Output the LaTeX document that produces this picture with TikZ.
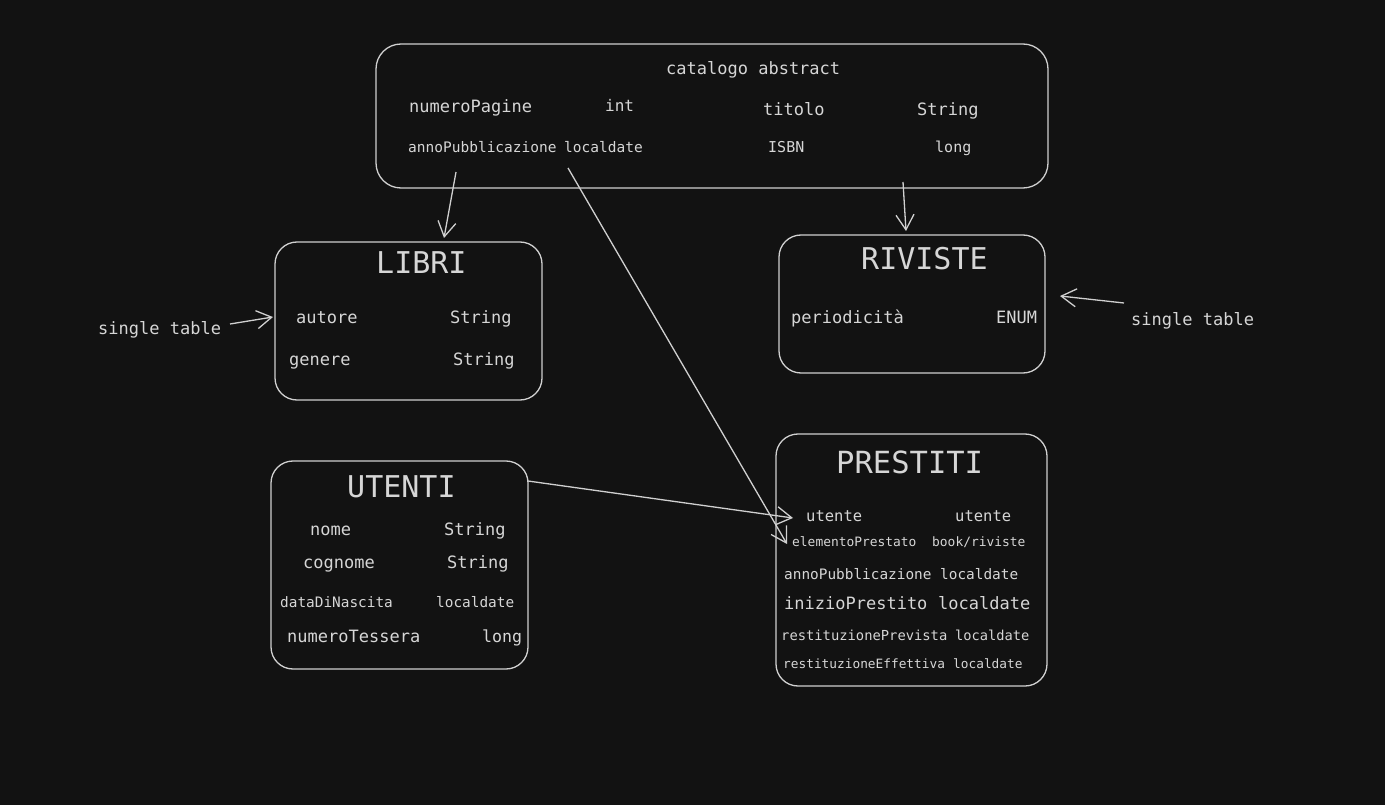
\documentclass[tikz,border=0pt]{standalone}
\usepackage{fontspec}
\newfontfamily\mono{DejaVu Sans Mono}
\usetikzlibrary{arrows.meta}
\definecolor{bg}{HTML}{121212}
\definecolor{fg}{HTML}{D6D6D6}
\definecolor{ln}{HTML}{D0D0D0}
\tikzset{
  fs/.style={font=\mono\fontsize{#1}{#1}\selectfont, text=fg, inner sep=0pt, anchor=west, text height=1.25em, text depth=0.15em},
  ttl/.style={fs=#1, text height=1.75em},
  box/.style={draw=ln, line width=1.3pt, rounded corners=22pt, fill=none, inner sep=0pt},
  arr/.style={draw=ln, line width=1.3pt, -{Straight Barb[length=15pt,width=18pt,line width=1.3pt]}}
}
\begin{document}
\begin{tikzpicture}[x=1pt,y=-1pt]
\fill[bg] (0,0) rectangle (1385,805);
\useasboundingbox (0,0) rectangle (1385,805);
% boxes
\node[box, minimum width=672pt, minimum height=144pt, rounded corners=25pt] (cat) at (712,116) {};
\node[box, minimum width=267pt, minimum height=158pt] (libri) at (408.5,321) {};
\node[box, minimum width=266pt, minimum height=138pt] (riviste) at (912,304) {};
\node[box, minimum width=257pt, minimum height=208pt] (utenti) at (399.5,565) {};
\node[box, minimum width=271pt, minimum height=252pt] (prestiti) at (911.5,560) {};
% catalogo
\node[fs=17] (c0) at (666,69) {catalogo abstract};
\node[fs=17] (c1) at (409,107) {numeroPagine};
\node[fs=16] (c2) at (605,106) {int};
\node[fs=17] (c3) at (763,110) {titolo};
\node[fs=17] (c4) at (917,110) {String};
\node[fs=14.5] (c5) at (408,147) {annoPubblicazione};
\node[fs=14.5] (c6) at (564,147) {localdate};
\node[fs=15] (c7) at (768,147) {ISBN};
\node[fs=15] (c8) at (935,147) {long};
% libri
\node[ttl=30] (l0) at (376,265) {LIBRI};
\node[fs=17] (l1) at (296,318) {autore};
\node[fs=17] (l2) at (450,318) {String};
\node[fs=17] (l3) at (289,360) {genere};
\node[fs=17] (l4) at (453,360) {String};
\node[fs=17] (st1) at (98,329) {single table};
% riviste
\node[ttl=30] (r0) at (861,262) {RIVISTE};
\node[fs=17] (r1) at (791,318) {periodicità};
\node[fs=17] (r2) at (996,318) {ENUM};
\node[fs=17] (st2) at (1131,320) {single table};
% utenti
\node[ttl=30] (u0) at (347,489) {UTENTI};
\node[fs=17] (u1) at (310,530) {nome};
\node[fs=17] (u2) at (444,530) {String};
\node[fs=17] (u3) at (303,563) {cognome};
\node[fs=17] (u4) at (447,563) {String};
\node[fs=14.4] (u5) at (280,602) {dataDiNascita};
\node[fs=14.4] (u6) at (436,602) {localdate};
\node[fs=17] (u7) at (287,637) {numeroTessera};
\node[fs=16.6] (u8) at (482,637) {long};
% prestiti
\node[ttl=30.5] (p0) at (836,465) {PRESTITI};
\node[fs=15.5] (p1) at (806,516) {utente};
\node[fs=15.5] (p2) at (955,516) {utente};
\node[fs=12.9] (p3) at (792,541) {elementoPrestato};
\node[fs=12.9] (p4) at (932,541) {book/riviste};
\node[fs=14.4] (p5) at (784,574) {annoPubblicazione};
\node[fs=14.4] (p6) at (940,574) {localdate};
\node[fs=17] (p7) at (784,604) {inizioPrestito};
\node[fs=17] (p8) at (938,604) {localdate};
\node[fs=13.8] (p9) at (781,635) {restituzionePrevista};
\node[fs=13.7] (p10) at (955,635) {localdate};
\node[fs=12.8] (p11) at (783,663) {restituzioneEffettiva};
\node[fs=12.8] (p12) at (953,663) {localdate};
% connectors
\coordinate (a1s) at (456,172);
\coordinate (a1e) at (444,238);
\coordinate (a2s) at (568,168);
\coordinate (a2e) at (787,544);
\coordinate (a3s) at (528,481);
\coordinate (a3e) at (793,518);
\coordinate (a4s) at (903,182);
\coordinate (a4e) at (906,231);
\coordinate (a5s) at (230,324);
\coordinate (a5e) at (273,317);
\coordinate (a6s) at (1124,303);
\coordinate (a6e) at (1060,296);
\draw[arr] (a1s) -- (a1e);
\draw[arr] (a2s) -- (a2e);
\draw[arr] (a3s) -- (a3e);
\draw[arr] (a4s) -- (a4e);
\draw[arr] (a5s) -- (a5e);
\draw[arr] (a6s) -- (a6e);
\end{tikzpicture}
\end{document}
